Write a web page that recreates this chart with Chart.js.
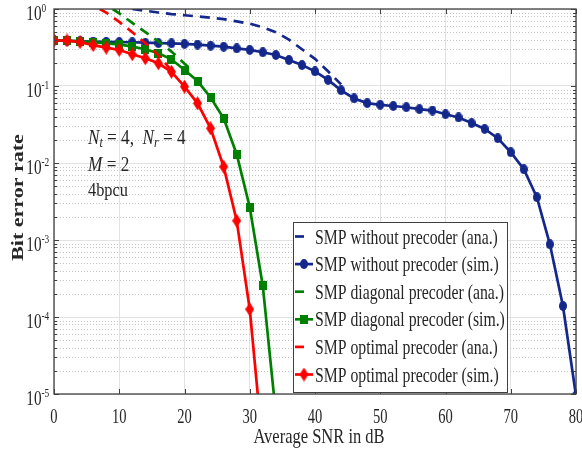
<!DOCTYPE html>
<html><head><meta charset="utf-8">
<script src="https://cdn.jsdelivr.net/npm/chart.js@4.4.0/dist/chart.umd.min.js"></script>
<style>html,body{margin:0;padding:0;background:#fff;overflow:hidden}#wrap{width:582px;height:459px;position:relative}</style>
</head><body><div id="wrap"><canvas id="c" width="582" height="459"></canvas></div>
<script>
// ---- data ----
const snrNoPrecSim = [0,2,4,6,8,10,12,14,16,18,20,22,24,26,28,30,32,34,36,38,40,42,44,46,48,50,52,54,56,58,60,62,64,66,68,70,72,74,76,78,80];
const berNoPrecSim = [0.39,0.385,0.38,0.378,0.375,0.372,0.37,0.365,0.36,0.358,0.352,0.345,0.334,0.324,0.308,0.294,0.274,0.253,0.218,0.187,0.155,0.12,0.088,0.069,0.06,0.057,0.055,0.053,0.05,0.048,0.043,0.039,0.033,0.0277,0.021,0.0138,0.0083,0.0036,0.00088,0.000139,0.0000095];
const snrNoPrecAna = [12,14,16,18,20,22,24,26,28,30,32,34,36,38,40,42,44];
const berNoPrecAna = [1.0,0.95,0.9,0.86,0.83,0.8,0.77,0.74,0.69,0.645,0.58,0.5,0.40,0.30,0.225,0.155,0.105];
const snrDiagSim = [0,2,4,6,8,10,12,14,16,18,20,22,24,26,28,30,32,34];
const berDiagSim = [0.39,0.388,0.38,0.37,0.358,0.348,0.324,0.3,0.266,0.222,0.161,0.116,0.071,0.038,0.013,0.00266,0.000253,0.0000055];
const snrDiagAna = [9,10,12,14,16,18,20,21];
const berDiagAna = [1.0,0.88,0.66,0.5,0.38,0.28,0.195,0.165];
const snrOptSim = [0,2,4,6,8,10,12,14,16,18,20,22,24,26,28,30,32];
const berOptSim = [0.39,0.39,0.37,0.34,0.315,0.294,0.258,0.229,0.197,0.153,0.098,0.0596,0.0282,0.00895,0.00178,0.000126,0.000002];
const snrOptAna = [7,8,10,12,14,16,18];
const berOptAna = [1.0,0.9,0.68,0.5,0.36,0.25,0.16];
const xTickValues = [0,10,20,30,40,50,60,70,80];
const yTickExponents = [0,-1,-2,-3,-4,-5];
const legendLabels = ['SMP without precoder (ana.)','SMP without precoder (sim.)','SMP diagonal precoder (ana.)','SMP diagonal precoder (sim.)','SMP optimal precoder (ana.)','SMP optimal precoder (sim.)'];
const xTitle = 'Average SNR in dB';
const yTitle = 'Bit error rate';

const BLUE = '#14288c', GREEN = '#008000', RED = '#ff0000';
const SERIF = '"Liberation Serif","Times New Roman",serif';
const TXT = '#262626';
const pts = (xs, ys) => xs.map((x, i) => ({x: x, y: ys[i]}));

// narrow (vertically elongated) markers like the reference
function makeMarker(kind, w, h, color) {
  const c = document.createElement('canvas');
  c.width = w; c.height = h;
  const g = c.getContext('2d');
  g.fillStyle = color;
  g.beginPath();
  if (kind === 'ellipse') g.ellipse(w / 2, h / 2, w / 2, h / 2, 0, 0, Math.PI * 2);
  else if (kind === 'diamond') { g.moveTo(w / 2, 0); g.lineTo(w, h / 2); g.lineTo(w / 2, h); g.lineTo(0, h / 2); g.closePath(); }
  else g.rect(0, 0, w, h);
  g.fill();
  return c;
}
const mBlue = makeMarker('ellipse', 8, 10, BLUE);
const mGreen = makeMarker('rect', 8, 9, GREEN);
const mRed = makeMarker('diamond', 9, 14, RED);

const lineDs = (label, xs, ys, color, dashed, marker) => ({
  label, data: pts(xs, ys), borderColor: color, backgroundColor: color,
  borderWidth: 2.7, borderDash: dashed ? [10, 7] : [], tension: 0,
  pointRadius: dashed ? 0 : 5, pointStyle: marker || 'circle',
  pointBackgroundColor: color, pointBorderColor: color, pointBorderWidth: 0
});

const datasets = [
  lineDs(legendLabels[4], snrOptAna, berOptAna, RED, true),
  lineDs(legendLabels[5], snrOptSim, berOptSim, RED, false, mRed),
  lineDs(legendLabels[2], snrDiagAna, berDiagAna, GREEN, true),
  lineDs(legendLabels[3], snrDiagSim, berDiagSim, GREEN, false, mGreen),
  lineDs(legendLabels[0], snrNoPrecAna, berNoPrecAna, BLUE, true),
  lineDs(legendLabels[1], snrNoPrecSim, berNoPrecSim, BLUE, false, mBlue)
];
const legendOrder = [4,5,2,3,0,1];

// text helper: horizontally condensed serif text, like the reference
function txt(ctx, s, x, y, font, align, sx, rot) {
  ctx.save();
  ctx.translate(x, y);
  if (rot) { ctx.rotate(-Math.PI / 2); ctx.scale(1, sx); } else ctx.scale(sx, 1);
  ctx.font = font; ctx.textAlign = align || 'left'; ctx.textBaseline = 'alphabetic';
  ctx.fillStyle = TXT;
  ctx.fillText(s, 0, 0);
  const w = ctx.measureText(s).width * (rot ? 1 : sx);
  ctx.restore();
  return w;
}

const decorPlugin = {
  id: 'decor',
  beforeDatasetsDraw(chart) {
    const {ctx, chartArea: a, scales: {y}} = chart;
    ctx.save();
    ctx.strokeStyle = '#c4c4c4'; ctx.lineWidth = 1; ctx.setLineDash([1, 2]);
    for (let e = -5; e < 0; e++) for (let m = 2; m <= 9; m++) {
      const py = Math.round(y.getPixelForValue(m * Math.pow(10, e))) + 0.5;
      ctx.beginPath(); ctx.moveTo(a.left, py); ctx.lineTo(a.right, py); ctx.stroke();
    }
    ctx.restore();
    // annotation
    const SX = 0.86;
    let x = a.left + 34;
    const put = (s, f, yb) => { x += txt(ctx, s, x, yb, f, 'left', SX); };
    put('N', 'italic 20px ' + SERIF, 144); put('t', 'italic 14px ' + SERIF, 147); put(' = 4,  ', '20px ' + SERIF, 144);
    put('N', 'italic 20px ' + SERIF, 144); put('r', 'italic 14px ' + SERIF, 147); put(' = 4', '20px ' + SERIF, 144);
    x = a.left + 34;
    put('M', 'italic 20px ' + SERIF, 171); put(' = 2', '20px ' + SERIF, 171);
    x = a.left + 34;
    put('4bpcu', '19px ' + SERIF, 196);
  },
  afterDraw(chart) {
    const {ctx, chartArea: a, scales: {x, y}} = chart;
    ctx.save();
    // box
    ctx.strokeStyle = '#404040'; ctx.lineWidth = 1.3;
    ctx.strokeRect(a.left, a.top, a.right - a.left, a.bottom - a.top);
    // ticks
    ctx.lineWidth = 1;
    ctx.beginPath();
    xTickValues.forEach(v => { const px = Math.round(x.getPixelForValue(v)) + 0.5;
      ctx.moveTo(px, a.bottom); ctx.lineTo(px, a.bottom - 5); ctx.moveTo(px, a.top); ctx.lineTo(px, a.top + 5); });
    for (let e = -5; e <= 0; e++) for (let m = 1; m <= 9; m++) {
      if (e === 0 && m > 1) break;
      const py = Math.round(y.getPixelForValue(m * Math.pow(10, e))) + 0.5;
      const L = m === 1 ? 5 : 3;
      ctx.moveTo(a.left, py); ctx.lineTo(a.left + L, py); ctx.moveTo(a.right, py); ctx.lineTo(a.right - L, py);
    }
    ctx.stroke();
    ctx.restore();
    // tick labels
    xTickValues.forEach(v => txt(ctx, String(v), x.getPixelForValue(v), 423, '22px ' + SERIF, 'center', 0.66));
    yTickExponents.forEach(e => {
      const py = y.getPixelForValue(Math.pow(10, e));
      txt(ctx, '10', a.left - 12.5, py + 11, '20px ' + SERIF, 'right', 0.76);
      txt(ctx, String(e), a.left - 12.5, py + 2.5, '13px ' + SERIF, 'left', 0.72);
    });
    // axis titles
    txt(ctx, xTitle, (a.left + a.right) / 2 + 4, 443, '22px ' + SERIF, 'center', 0.75);
    txt(ctx, yTitle, 23, (a.top + a.bottom) / 2 - 4, 'bold 22px ' + SERIF, 'center', 0.72, true);
    // legend
    ctx.save();
    const bw = 214, bh = 170;
    const bx = a.right - 69 - bw, by = a.bottom - 2 - bh;
    ctx.fillStyle = '#fff'; ctx.fillRect(bx, by, bw, bh);
    ctx.strokeStyle = '#404040'; ctx.lineWidth = 1; ctx.strokeRect(bx + 0.5, by + 0.5, bw, bh);
    ctx.restore();
    legendOrder.forEach((di, i) => {
      const ds = datasets[di];
      const cy = by + 14.5 + i * 27.6;
      ctx.save();
      ctx.strokeStyle = ds.borderColor; ctx.lineWidth = 2.7; ctx.setLineDash([]);
      ctx.beginPath();
      if (ds.pointRadius === 0) { ctx.moveTo(bx + 2, cy); ctx.lineTo(bx + 11, cy); }
      else { ctx.moveTo(bx + 2, cy); ctx.lineTo(bx + 20, cy); }
      ctx.stroke();
      if (ds.pointRadius > 0) {
        const im = ds.pointStyle;
        ctx.drawImage(im, bx + 11 - im.width / 2, cy - im.height / 2);
      }
      ctx.restore();
      txt(ctx, ds.label, bx + 22, cy + 7, '21px ' + SERIF, 'left', 0.75);
    });
  }
};

new Chart(document.getElementById('c'), {
  type: 'line',
  data: {datasets},
  plugins: [decorPlugin],
  options: {
    responsive: false, animation: false, devicePixelRatio: 1,
    layout: {padding: {top: 9, right: 6, left: 0, bottom: 0}},
    plugins: {legend: {display: false}, tooltip: {enabled: false}},
    scales: {
      x: {
        type: 'linear', min: 0, max: 80,
        afterBuildTicks: s => { s.ticks = xTickValues.map(v => ({value: v})); },
        afterFit: s => { s.height = 65; s.paddingLeft = 0; s.paddingRight = 0; },
        ticks: {display: false},
        grid: {color: '#e2e2e2', lineWidth: 1, drawTicks: false},
        border: {display: false},
        title: {display: false, text: xTitle}
      },
      y: {
        type: 'logarithmic', min: 1e-5, max: 1,
        afterBuildTicks: s => { s.ticks = yTickExponents.map(e => ({value: Math.pow(10, e)})); },
        afterFit: s => { s.width = 54; s.paddingTop = 0; s.paddingBottom = 0; },
        ticks: {display: false},
        grid: {color: '#e2e2e2', lineWidth: 1, drawTicks: false},
        border: {display: false},
        title: {display: false, text: yTitle}
      }
    }
  }
});
</script>
</body></html>
